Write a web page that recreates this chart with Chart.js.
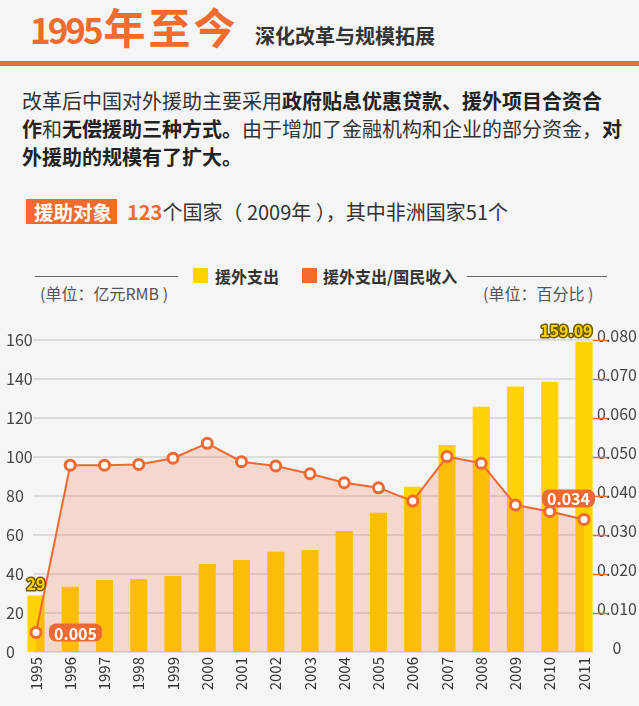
<!DOCTYPE html>
<html>
<head>
<meta charset="utf-8">
<script src="https://cdn.jsdelivr.net/npm/chart.js@4.4.1/dist/chart.umd.min.js"></script>
<style>
  body { margin: 0; background: #f5f5f5; font-family: "Noto Sans CJK SC", sans-serif; color: #333; }
  #page { position: relative; width: 639px; height: 706px; overflow: hidden; }
  .abs { position: absolute; white-space: nowrap; }
  .title { left: 30px; top: -4px; color: #f26b2e; font-weight: bold; line-height: 60px; }
  .title .yr { font-size: 35px; letter-spacing: -3px; margin-right: 3px; }
  .title .cn { font-size: 42px; letter-spacing: 3px; }
  .sub { left: 255px; top: 21px; font-size: 20px; font-weight: bold; line-height: 30px; color: #333; }
  .rule { left: 0; top: 61px; width: 639px; height: 5px; background: #f26b2e; }
  .para { left: 22px; top: 87px; font-size: 20px; line-height: 28px; color: #333; }
  .para b { color: #222; }
  .tagline { left: 26px; top: 199px; font-size: 20px; line-height: 25px; color: #333; }
  .tag { display: inline-block; background: #f26b2e; color: #fff; font-weight: bold; font-size: 19.5px; padding: 0 5px 0 8px; margin-right: 10px; }
  .num { color: #f26b2e; font-weight: bold; }
  .sq { width: 15px; height: 15px; top: 268px; }
  .lg { top: 264px; font-size: 16px; font-weight: bold; line-height: 24px; color: #333; }
  .hl { height: 1px; top: 276px; background: #666; }
  .unit { top: 282px; font-size: 16px; line-height: 22px; color: #555; }
  #wrap { position: absolute; left: 0; top: 300px; width: 639px; height: 406px; }
</style>
</head>
<body>
<div id="page">
  <div class="abs title"><span class="yr">1995</span><span class="cn">年至今</span></div>
  <div class="abs sub">深化改革与规模拓展</div>
  <div class="abs rule"></div>
  <div class="abs para">改革后中国对外援助主要采用<b>政府贴息优惠贷款、援外项目合资合</b><br><b>作</b>和<b>无偿援助三种方式。</b>由于增加了金融机构和企业的部分资金，<b>对</b><br><b>外援助的规模有了扩大。</b></div>
  <div class="abs tagline"><span class="tag">援助对象</span><span class="num">123</span>个国家（ 2009年 ），其中非洲国家51个</div>

  <div class="abs hl" style="left:35px;width:143px"></div>
  <div class="abs hl" style="left:467px;width:140px"></div>
  <div class="abs sq" style="left:193px;background:#ffd200"></div>
  <div class="abs lg" style="left:215px">援外支出</div>
  <div class="abs sq" style="left:302px;background:#f26b2e"></div>
  <div class="abs lg" style="left:323px">援外支出/国民收入</div>
  <div class="abs unit" style="left:40px">(单位：亿元RMB )</div>
  <div class="abs unit" style="left:483px">(单位：百分比 )</div>

  <div id="wrap"><canvas id="myChart" width="639" height="406"></canvas></div>
</div>
<script>
const years = ['1995', '1996', '1997', '1998', '1999', '2000', '2001', '2002', '2003',
  '2004', '2005', '2006', '2007', '2008', '2009', '2010', '2011']
// 援外支出, 亿元RMB
const aidSpending = [29, 33.5, 36.9, 37.4, 39.0, 45.1, 47.2, 51.4, 52.3,
  62.1, 71.4, 84.8, 106.2, 125.8, 136.1, 138.6, 159.09]
// 援外支出/国民收入, 百分比
const aidShare = [0.005, 0.0479, 0.0479, 0.0481, 0.0497, 0.0535, 0.0488, 0.0477, 0.0457,
  0.0434, 0.0421, 0.0387, 0.0501, 0.0484, 0.0377, 0.0360, 0.034]
const leftMax = 160
const leftStep = 20
const rightMax = 0.08
const rightStep = 0.01

const ORANGE = '#ef6a32'
const YELLOW = '#ffd200'
const FONT = '"Noto Sans CJK SC", sans-serif'

Chart.defaults.font.family = FONT

// grid lines a bit wider than the plot, plus the little orange ticks on the right
const gridLines = {
	id: 'gridLines',
	beforeDatasetsDraw(chart) {
		const { ctx, chartArea, scales } = chart
		ctx.save()
		ctx.strokeStyle = '#dcdcdc'
		ctx.lineWidth = 2
		scales.y.ticks.forEach(t => {
			const py = Math.round(scales.y.getPixelForValue(t.value))
			ctx.beginPath()
			ctx.moveTo(chartArea.left - 3, py)
			ctx.lineTo(chartArea.right + 9, py)
			ctx.stroke()
		})
		ctx.strokeStyle = ORANGE
		ctx.lineWidth = 1.5
		scales.yR.ticks.forEach(t => {
			if (t.value <= 0) return
			const py = Math.round(scales.yR.getPixelForValue(t.value)) + 0.5
			ctx.beginPath()
			ctx.moveTo(chartArea.right + 9, py)
			ctx.lineTo(chartArea.right + 23, py)
			ctx.stroke()
		})
		ctx.restore()
	},
}

// first / last value labels
const valueLabels = {
	id: 'valueLabels',
	afterDatasetsDraw(chart) {
		const { ctx } = chart
		const bars = chart.getDatasetMeta(0).data
		const pts = chart.getDatasetMeta(1).data
		const last = years.length - 1
		ctx.save()
		ctx.font = 'bold 16px ' + FONT
		ctx.lineJoin = 'round'

		// yellow outlined bar labels
		;[[0, 'center'], [last, 'right']].forEach(([i, align]) => {
			const b = bars[i]
			const x = align === 'center' ? b.x : b.x + b.width / 2
			const txt = String(aidSpending[i])
			ctx.textAlign = align
			ctx.textBaseline = 'alphabetic'
			ctx.lineWidth = 3
			ctx.strokeStyle = '#6b5a00'
			ctx.strokeText(txt, x, b.y - 5)
			ctx.fillStyle = YELLOW
			ctx.fillText(txt, x, b.y - 5)
		})

		// orange badges on the line
		const badge = (i, side, dx, dy) => {
			const p = pts[i]
			const txt = aidShare[i].toFixed(3)
			const w = ctx.measureText(txt).width + 10
			const h = 18
			const left = side === 'right' ? p.x + dx : p.x + dx - w
			const top = p.y + dy - h / 2
			ctx.fillStyle = ORANGE
			ctx.beginPath()
			ctx.roundRect(left, top, w, h, 7)
			ctx.fill()
			ctx.fillStyle = '#fff'
			ctx.textAlign = 'center'
			ctx.textBaseline = 'middle'
			ctx.fillText(txt, left + w / 2, top + h / 2 + 1)
		}
		badge(0, 'right', 13, 0)
		badge(last, 'left', 11, -21)
		ctx.restore()
	},
}

const ctx = document.getElementById('myChart')
new Chart(ctx, {
	data: {
		labels: years,
		datasets: [
			{
				type: 'bar',
				label: '援外支出',
				data: aidSpending,
				yAxisID: 'y',
				backgroundColor: YELLOW,
				categoryPercentage: 1,
				barPercentage: 0.5,
				clip: false,
				order: 2,
			},
			{
				type: 'line',
				label: '援外支出/国民收入',
				data: aidShare,
				yAxisID: 'yR',
				borderColor: ORANGE,
				borderWidth: 2,
				backgroundColor: 'rgba(240, 100, 50, 0.2)',
				fill: 'origin',
				tension: 0,
				pointRadius: 5,
				pointBorderWidth: 3,
				pointBackgroundColor: '#fff',
				pointBorderColor: ORANGE,
				clip: false,
				order: 1,
			},
		],
	},
	options: {
		responsive: false,
		animation: false,
		devicePixelRatio: 1,
		layout: {
			padding: { top: 40, left: 6, right: 0, bottom: 0 },
		},
		plugins: {
			legend: { display: false },
			tooltip: { enabled: false },
		},
		scales: {
			x: {
				offset: false,
				grid: { display: false, drawTicks: false },
				border: { display: false },
				ticks: {
					autoSkip: false,
					maxRotation: 90,
					minRotation: 90,
					padding: 5,
					color: '#333',
					font: { size: 15 },
				},
				afterFit(scale) { scale.height = 54 },
			},
			y: {
				position: 'left',
				min: 0,
				max: leftMax,
				grid: { display: false, drawTicks: false },
				border: { display: false },
				ticks: {
					stepSize: leftStep,
					crossAlign: 'far',
					color: '#444',
					font: { size: 16 },
				},
				afterFit(scale) { scale.width = 30 },
			},
			yR: {
				position: 'right',
				min: 0,
				max: rightMax,
				grid: { display: false, drawTicks: false },
				border: { display: false },
				ticks: {
					stepSize: rightStep,
					crossAlign: 'center',
					padding: 13,
					labelOffset: -4,
					color: '#444',
					font: { size: 16 },
					callback: v => (v === 0 ? '0' : v.toFixed(3)),
				},
				afterFit(scale) { scale.width = 55 },
			},
		},
	},
	plugins: [gridLines, valueLabels],
})
</script>
</body>
</html>
